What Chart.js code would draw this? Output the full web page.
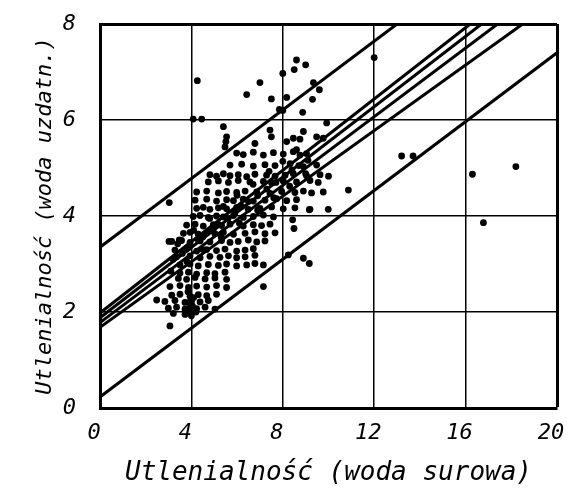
<!DOCTYPE html>
<html lang="pl">
<head>
    <meta charset="UTF-8">
    <title>Utlenialność</title>
    <script src="https://cdn.jsdelivr.net/npm/chart.js@4.4.1/dist/chart.umd.min.js"></script>
    <style>
        body {
            margin: 0;
            background: #fff;
        }
        .chart-container {
            width: 567px;
            height: 493px;
        }
    </style>
</head>
<body>
<div class="chart-container">
    <canvas id="myChart" width="567" height="493"></canvas>
</div>
<script>
    // osie
    const xTicks = [0, 4, 8, 12, 16, 20];
    const yTicks = [0, 2, 4, 6, 8];
    const xTitle = 'Utlenialność (woda surowa)';
    const yTitle = 'Utlenialność (woda uzdatn.)';

    // punkty pomiarowe [woda surowa, woda uzdatniona]
    const outliers = [
        [12.0, 7.3], [8.6, 7.25], [9.0, 7.15], [8.5, 7.05], [8.0, 6.97], [4.26, 6.82],
        [7.0, 6.78], [9.34, 6.78], [9.6, 6.63], [6.42, 6.53], [7.5, 6.44], [8.17, 6.47],
        [9.3, 6.43], [7.85, 6.22], [8.0, 6.2], [8.87, 6.16], [4.08, 6.02], [4.45, 6.02],
        [9.92, 5.94], [5.4, 5.86], [5.54, 5.65], [5.51, 5.55], [5.47, 5.44], [7.44, 5.79],
        [7.5, 5.65], [8.9, 5.76], [8.46, 5.62], [8.75, 5.6], [9.48, 5.65], [9.77, 5.62],
        [6.78, 5.51], [8.17, 5.55], [13.2, 5.25], [13.7, 5.25], [18.2, 5.03], [16.3, 4.87],
        [16.78, 3.86], [10.87, 4.54], [9.99, 4.14], [9.16, 4.13], [8.43, 3.92], [8.49, 3.74],
        [8.24, 3.19], [8.9, 3.12], [9.16, 3.01], [7.15, 2.98], [7.15, 2.53], [3.03, 4.28],
        [3.06, 1.71], [2.48, 2.25], [3.02, 3.47], [3.47, 3.5]
    ];
    const cloud = [
        [5.98, 5.31], [6.27, 5.28], [6.71, 5.33], [7.15, 5.27], [7.59, 5.32], [8.02, 5.29], [8.46, 5.34], [8.75, 5.27], [9.04, 5.3],
        [5.69, 5.06], [6.2, 5.08], [6.71, 5.04], [7.22, 5.07], [7.66, 5.05], [8.32, 5.09], [8.9, 5.03], [9.48, 5.06],
        [4.81, 4.86], [5.1, 4.83], [5.4, 4.88], [5.69, 4.84], [6.05, 4.86], [6.42, 4.82], [6.78, 4.87], [7.29, 4.85], [7.66, 4.83], [8.46, 4.88], [9.04, 4.84], [9.63, 4.86], [10.0, 4.83],
        [4.74, 4.71], [5.18, 4.73], [5.62, 4.7], [6.05, 4.74], [6.56, 4.71], [7.15, 4.72], [7.51, 4.69], [8.02, 4.73], [8.6, 4.71], [9.19, 4.74], [9.55, 4.7],
        [4.23, 4.5], [4.67, 4.52], [5.18, 4.48], [5.54, 4.51], [5.98, 4.49], [6.35, 4.52], [6.86, 4.5], [7.44, 4.47], [7.95, 4.51], [8.53, 4.49], [8.9, 4.52], [9.26, 4.48], [9.77, 4.5],
        [4.16, 4.33], [4.67, 4.35], [5.1, 4.31], [5.54, 4.34], [5.84, 4.32], [6.27, 4.35], [6.71, 4.31], [7.22, 4.33], [7.73, 4.36], [8.17, 4.32], [8.6, 4.34],
        [4.23, 4.16], [4.52, 4.18], [4.81, 4.14], [5.18, 4.17], [5.54, 4.15], [5.98, 4.18], [6.49, 4.14], [7.0, 4.16], [7.51, 4.19], [8.02, 4.15], [8.53, 4.17], [9.19, 4.14],
        [4.08, 3.99], [4.38, 4.01], [4.74, 3.97], [5.1, 4.0], [5.4, 3.98], [5.84, 4.01], [6.27, 3.97], [6.71, 3.99], [7.15, 4.02], [7.59, 3.98],
        [3.79, 3.81], [4.16, 3.83], [4.52, 3.79], [4.96, 3.82], [5.32, 3.8], [5.69, 3.83], [6.27, 3.79], [6.71, 3.82], [7.07, 3.8], [7.44, 3.83],
        [3.65, 3.64], [3.94, 3.66], [4.3, 3.62], [4.67, 3.65], [5.03, 3.63], [5.4, 3.66], [5.84, 3.62], [6.35, 3.64], [6.78, 3.67], [7.22, 3.63], [7.66, 3.65],
        [3.14, 3.47], [3.57, 3.49], [3.94, 3.45], [4.38, 3.48], [4.81, 3.46], [5.32, 3.49], [5.69, 3.45], [6.05, 3.47], [6.49, 3.5], [6.86, 3.46], [7.22, 3.48],
        [3.28, 3.29], [3.79, 3.31], [4.23, 3.27], [4.67, 3.3], [5.1, 3.28], [5.47, 3.31], [5.98, 3.27], [6.35, 3.29], [6.71, 3.32],
        [3.35, 3.15], [3.94, 3.17], [4.38, 3.13], [4.81, 3.16], [5.25, 3.14], [5.62, 3.17], [5.98, 3.13], [6.35, 3.15], [6.78, 3.18],
        [3.5, 2.98], [3.94, 3.0], [4.3, 2.96], [4.74, 2.99], [5.18, 2.97], [5.54, 3.0], [5.98, 2.96], [6.42, 2.98], [6.78, 3.01],
        [3.5, 2.81], [3.87, 2.83], [4.23, 2.79], [4.67, 2.82], [5.03, 2.8], [5.47, 2.83],
        [3.43, 2.7], [3.79, 2.68], [4.16, 2.72], [4.6, 2.69], [5.03, 2.71], [5.54, 2.68],
        [3.06, 2.53], [3.5, 2.55], [3.87, 2.51], [4.23, 2.54], [4.67, 2.52], [5.1, 2.55], [5.54, 2.51],
        [3.14, 2.35], [3.5, 2.37], [3.94, 2.33], [4.3, 2.36], [4.67, 2.34], [5.1, 2.37],
        [2.84, 2.22], [3.28, 2.24], [3.72, 2.2], [4.01, 2.23], [4.38, 2.21], [4.74, 2.24],
        [2.99, 2.08], [3.35, 2.1], [3.72, 2.06], [3.94, 2.09], [4.23, 2.07], [4.6, 2.1], [5.03, 2.06],
        [3.21, 1.97], [3.72, 1.95], [3.94, 1.98]
    ];
    // gęste skupisko wzdłuż linii regresji
    const bandDots = [
        [3.2, 3.1], [3.6, 3.22], [3.9, 3.35], [4.3, 3.5], [4.5, 3.56], [4.9, 3.7], [5.2, 3.82],
        [5.6, 3.95], [5.9, 4.06], [6.2, 4.2], [6.5, 4.3], [6.9, 4.42], [7.3, 4.56], [7.7, 4.7],
        [8.1, 4.85], [8.4, 4.96], [8.7, 5.05], [9.1, 5.16],
        [3.4, 3.42], [4.1, 3.7], [4.8, 3.95], [5.4, 4.2], [6.0, 4.43], [6.7, 4.66], [7.4, 4.93],
        [8.0, 5.14], [8.6, 5.38], [3.1, 2.85], [3.8, 3.05], [4.5, 3.3], [5.3, 3.57], [6.1, 3.85],
        [6.9, 4.12], [7.6, 4.38], [8.3, 4.62], [9.0, 4.88], [3.9, 2.2], [4.05, 2.12], [4.1, 2.3],
        [3.85, 2.42], [4.0, 1.92], [4.2, 2.0]
    ];

    // proste: pasmo i linie regresji, końce odczytane na ramce wykresu
    const upperLine = [[0, 3.35], [13.0, 8]];
    const lowerLine = [[0, 0.23], [20, 7.4]];
    const fitLine1 = [[0, 1.98], [16.2, 8]];
    const fitLine2 = [[0, 1.88], [16.7, 8]];
    const fitLine3 = [[0, 1.78], [17.4, 8]];
    const fitLine4 = [[0, 1.68], [18.5, 8]];

    function toXY(list) {
        return list.map(p => ({ x: p[0], y: p[1] }));
    }

    function lineSet(list) {
        return {
            type: 'line',
            data: toXY(list),
            showLine: true,
            borderColor: '#000',
            borderWidth: 3,
            pointRadius: 0,
            fill: false,
            tension: 0
        };
    }

    const fontFamily = "'DejaVu Sans Mono', monospace";

    const ctx = document.getElementById('myChart').getContext('2d');
    new Chart(ctx, {
        type: 'scatter',
        data: {
            datasets: [
                {
                    data: toXY(outliers.concat(cloud, bandDots)),
                    pointRadius: 3.4,
                    pointBackgroundColor: '#000',
                    pointBorderWidth: 0
                },
                lineSet(upperLine),
                lineSet(lowerLine),
                lineSet(fitLine1),
                lineSet(fitLine2),
                lineSet(fitLine3),
                lineSet(fitLine4)
            ]
        },
        options: {
            responsive: false,
            animation: false,
            layout: {
                padding: { top: 24, right: 10, left: 0, bottom: 0 }
            },
            plugins: {
                legend: { display: false },
                tooltip: { enabled: false }
            },
            scales: {
                x: {
                    type: 'linear',
                    min: 0,
                    max: 20,
                    afterBuildTicks: s => { s.ticks = xTicks.map(v => ({ value: v })); },
                    afterFit: s => { s.height = 85; s.paddingLeft = 0; s.paddingRight = 0; },
                    grid: {
                        color: '#000',
                        lineWidth: c => (c.tick && c.tick.value === 20 ? 3 : 1.5),
                        drawTicks: false
                    },
                    border: { color: '#000', width: 3 },
                    ticks: {
                        color: '#000',
                        padding: 12,
                        labelOffset: -6,
                        maxRotation: 0,
                        font: { family: fontFamily, style: 'italic', size: 22 }
                    },
                    title: {
                        display: true,
                        text: xTitle,
                        color: '#000',
                        padding: { top: 0, bottom: 4 },
                        font: { family: fontFamily, style: 'italic', size: 26 }
                    }
                },
                y: {
                    type: 'linear',
                    min: 0,
                    max: 8,
                    afterBuildTicks: s => { s.ticks = yTicks.map(v => ({ value: v })); },
                    afterFit: s => { s.width = 100; s.paddingTop = 0; s.paddingBottom = 0; },
                    grid: {
                        color: '#000',
                        lineWidth: c => (c.tick && c.tick.value === 8 ? 3 : 1.5),
                        drawTicks: false
                    },
                    border: { color: '#000', width: 3 },
                    ticks: {
                        color: '#000',
                        padding: 24,
                        font: { family: fontFamily, style: 'italic', size: 22 }
                    },
                    title: {
                        display: true,
                        text: yTitle,
                        color: '#000',
                        padding: { top: 32, bottom: 0 },
                        font: { family: fontFamily, style: 'italic', size: 22 }
                    }
                }
            }
        }
    });
</script>
</body>
</html>
